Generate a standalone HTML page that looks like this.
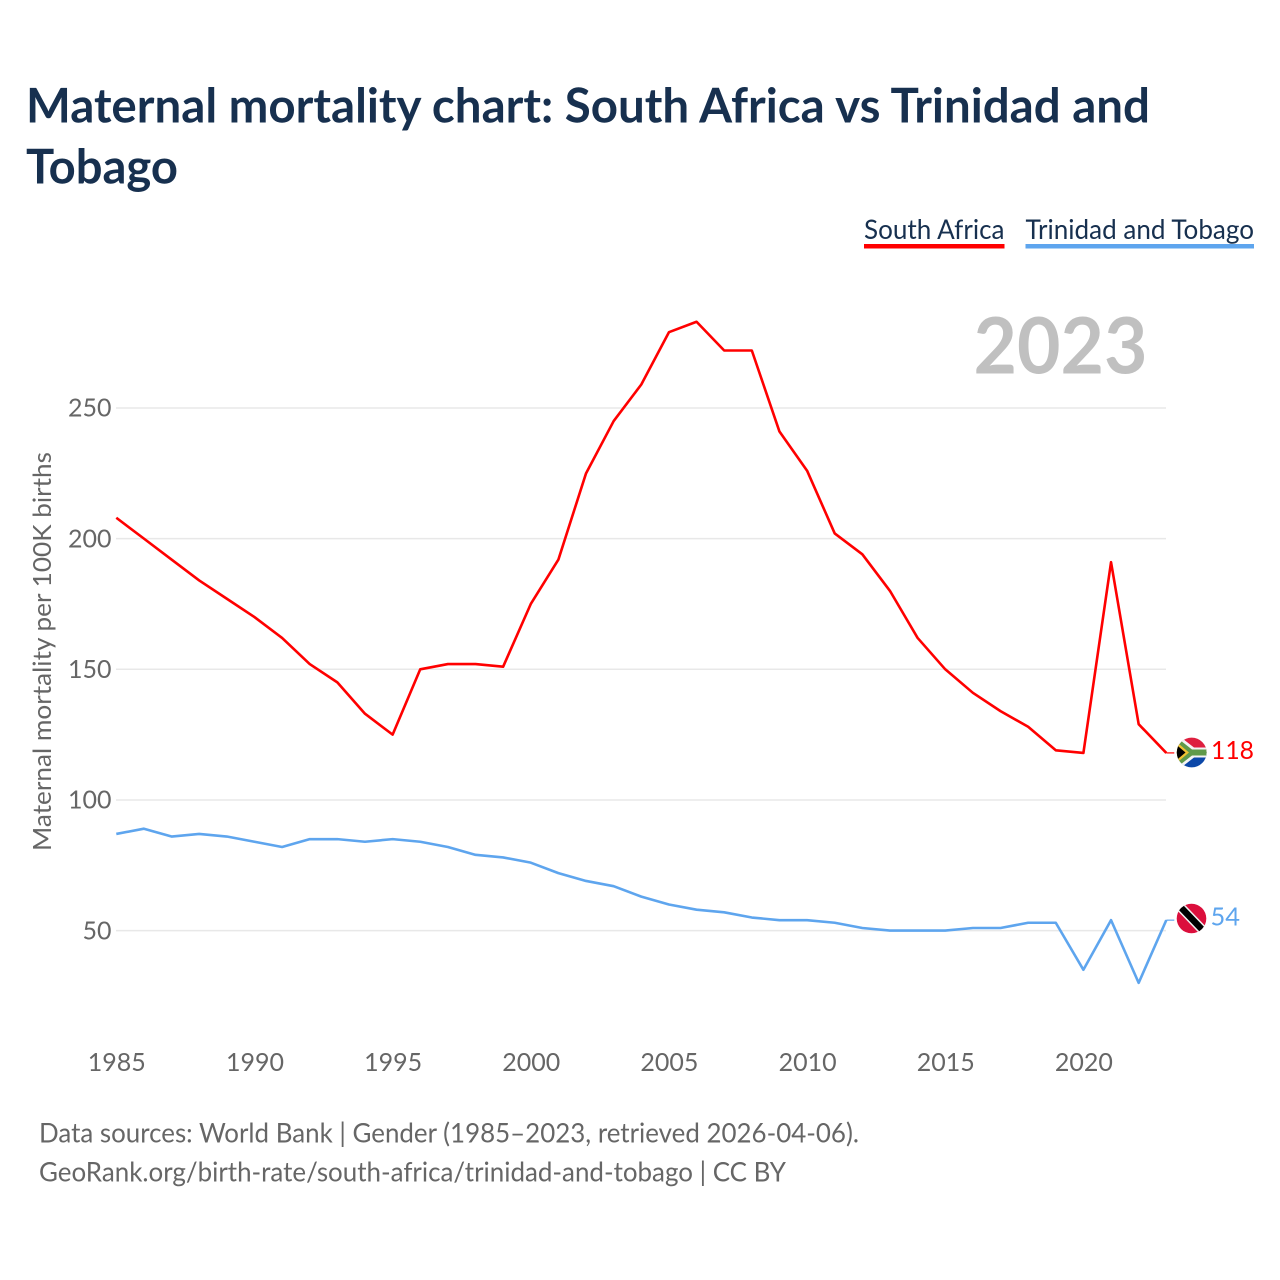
<!DOCTYPE html>
<html>
<head>
<meta charset="utf-8">
<style>
html,body{margin:0;padding:0;background:#fff;width:1280px;height:1280px;overflow:hidden}
svg{display:block}
text{font-family:"Lato","Carlito","Liberation Sans",sans-serif}
</style>
</head>
<body>
<svg id="chart" width="1280" height="1280" viewBox="0 0 1280 1280" xmlns="http://www.w3.org/2000/svg">
  <defs>
    <clipPath id="clip-za"><circle cx="1191.7" cy="752.5" r="14.9"/></clipPath>
    <clipPath id="clip-tt"><circle cx="1191.5" cy="918.5" r="14.8"/></clipPath>
  </defs>
  <g fill="#17304f" font-weight="700" font-size="48">
    <text x="26" y="122.5" textLength="1124" lengthAdjust="spacingAndGlyphs">Maternal mortality chart: South Africa vs Trinidad and</text>
    <text x="26" y="183.500" textLength="152" lengthAdjust="spacingAndGlyphs">Tobago</text>
  </g>
  <g>
    <g>
      <text x="864" y="239" font-size="27" fill="#17304f" textLength="140.500" lengthAdjust="spacingAndGlyphs">South Africa</text>
      <rect x="864" y="244" width="140.500" height="4.500" fill="#ff0000"/>
    </g>
    <g>
      <text x="1025.500" y="239" font-size="27" fill="#17304f" textLength="228.500" lengthAdjust="spacingAndGlyphs">Trinidad and Tobago</text>
      <rect x="1025.500" y="244" width="228.500" height="4.500" fill="#5ea5ee"/>
    </g>
  </g>
  <text x="973.500" y="373.500" font-size="78" font-weight="700" fill="#c0c0c0" textLength="174" lengthAdjust="spacingAndGlyphs">2023</text>
  <text transform="translate(51 851) rotate(-90)" font-size="25" fill="#666666" textLength="399" lengthAdjust="spacingAndGlyphs">Maternal mortality per 100K births</text>
  <g id="grid"></g>
  <g id="yticks"></g>
  <g id="xticks"></g>
  <g id="series"></g>
  <g clip-path="url(#clip-za)">
    <rect x="1176" y="736" width="32" height="17" fill="#de1f3f"/>
    <rect x="1176" y="752" width="32" height="18" fill="#0b47a8"/>
    <path d="M1176 733.500L1194 747.500H1208V757.500H1194L1176 771.500Z" fill="#f4f4f4"/>
    <path d="M1176 737L1192 749.500H1208V755.500H1192L1176 768Z" fill="#5f9a4a"/>
    <path d="M1176 741.500L1189 752.500L1176 763.500Z" fill="#f1c232"/>
    <path d="M1176 744.500L1185.500 752.500L1176 760.500Z" fill="#000000"/>
  </g>
  <g clip-path="url(#clip-tt)">
    <rect x="1175" y="902" width="33" height="33" fill="#db0f3c"/>
    <path d="M1180 906.500L1203.500 931" stroke="#f2f2f2" stroke-width="9.500"/>
    <path d="M1180 906.500L1203.500 931" stroke="#000000" stroke-width="6.500"/>
  </g>
  <text id="end-label-za" x="1211" y="759" font-size="25" fill="#ff0000" textLength="43" lengthAdjust="spacingAndGlyphs">118</text>
  <text id="end-label-tt" x="1210.500" y="925.500" font-size="25" fill="#5ea5ee" textLength="29.500" lengthAdjust="spacingAndGlyphs">54</text>
  <g font-size="27" fill="#666666">
    <text x="39" y="1142.500" textLength="820" lengthAdjust="spacingAndGlyphs">Data sources: World Bank | Gender (1985–2023, retrieved 2026-04-06).</text>
    <text x="39" y="1181.500" textLength="747" lengthAdjust="spacingAndGlyphs">GeoRank.org/birth-rate/south-africa/trinidad-and-tobago | CC BY</text>
  </g>
</svg>
<script>
const years = [1985,1986,1987,1988,1989,1990,1991,1992,1993,1994,1995,1996,1997,1998,1999,2000,2001,2002,2003,2004,2005,2006,2007,2008,2009,2010,2011,2012,2013,2014,2015,2016,2017,2018,2019,2020,2021,2022,2023];
const southAfrica = [208,200,192,184,177,170,162,152,145,133,125,150,152,152,151,175,192,225,245,259,279,283,272,272,241,226,202,194,180,162,150,141,134,128,119,118,191,129,118];
const trinidadTobago = [87,89,86,87,86,84,82,85,85,84,85,84,82,79,78,76,72,69,67,63,60,58,57,55,54,54,53,51,50,50,50,51,51,53,53,35,54,30,54];
const yTickValues = [50,100,150,200,250];
const xTickValues = [1985,1990,1995,2000,2005,2010,2015,2020];

const NS = 'http://www.w3.org/2000/svg';
function xScale(year){ return 116.3 + (year - 1985) * (1166.3 - 116.3) / 38; }
function yScale(v){ return 930.6 - (v - 50) * (930.6 - 408) / 200; }
function make(tag, attrs, parent){
  const el = document.createElementNS(NS, tag);
  for (const k in attrs) el.setAttribute(k, attrs[k]);
  parent.appendChild(el);
  return el;
}
const grid = document.getElementById('grid');
const yticks = document.getElementById('yticks');
const xticks = document.getElementById('xticks');
const seriesGroup = document.getElementById('series');

yTickValues.forEach(function(v){
  const line = make('line', {x1:116, x2:1166, y1:yScale(v), y2:yScale(v), stroke:'#e8e8e8', 'stroke-width':1.5}, grid);
  
  
  const label = make('text', {x:111.500, y:yScale(v) + 8.700, 'text-anchor':'end', 'font-size':25, fill:'#666666'}, yticks);
  
  
  label.textContent = String(v);
});

xTickValues.forEach(function(y){
  const label = make('text', {x:xScale(y) + 0.500, y:1071, 'text-anchor':'middle', 'font-size':25, fill:'#666666'}, xticks);
  
  
  label.textContent = String(y);
});

function drawSeries(values, color, name){
  let d = '';
  values.forEach(function(v, i){
    d += (i ? 'L' : 'M') + xScale(years[i]).toFixed(2) + ' ' + yScale(v).toFixed(2);
  });
  const path = make('path', {d:d, fill:'none', stroke:color, 'stroke-width':2.6, 'stroke-linejoin':'round'}, seriesGroup);
  
  
  const lastY = yScale(values[values.length - 1]);
  const lastX = xScale(years[years.length - 1]);
  const connector = make('line', {x1:lastX, x2:lastX + 8, y1:lastY, y2:lastY, stroke:color, 'stroke-width':1.2}, seriesGroup);
  
  
}
drawSeries(southAfrica, '#ff0000', 'line-south-africa');
drawSeries(trinidadTobago, '#5ea5ee', 'line-trinidad-and-tobago');

document.getElementById('end-label-za').textContent = String(southAfrica[southAfrica.length - 1]);
document.getElementById('end-label-tt').textContent = String(trinidadTobago[trinidadTobago.length - 1]);
</script>
</body>
</html>
